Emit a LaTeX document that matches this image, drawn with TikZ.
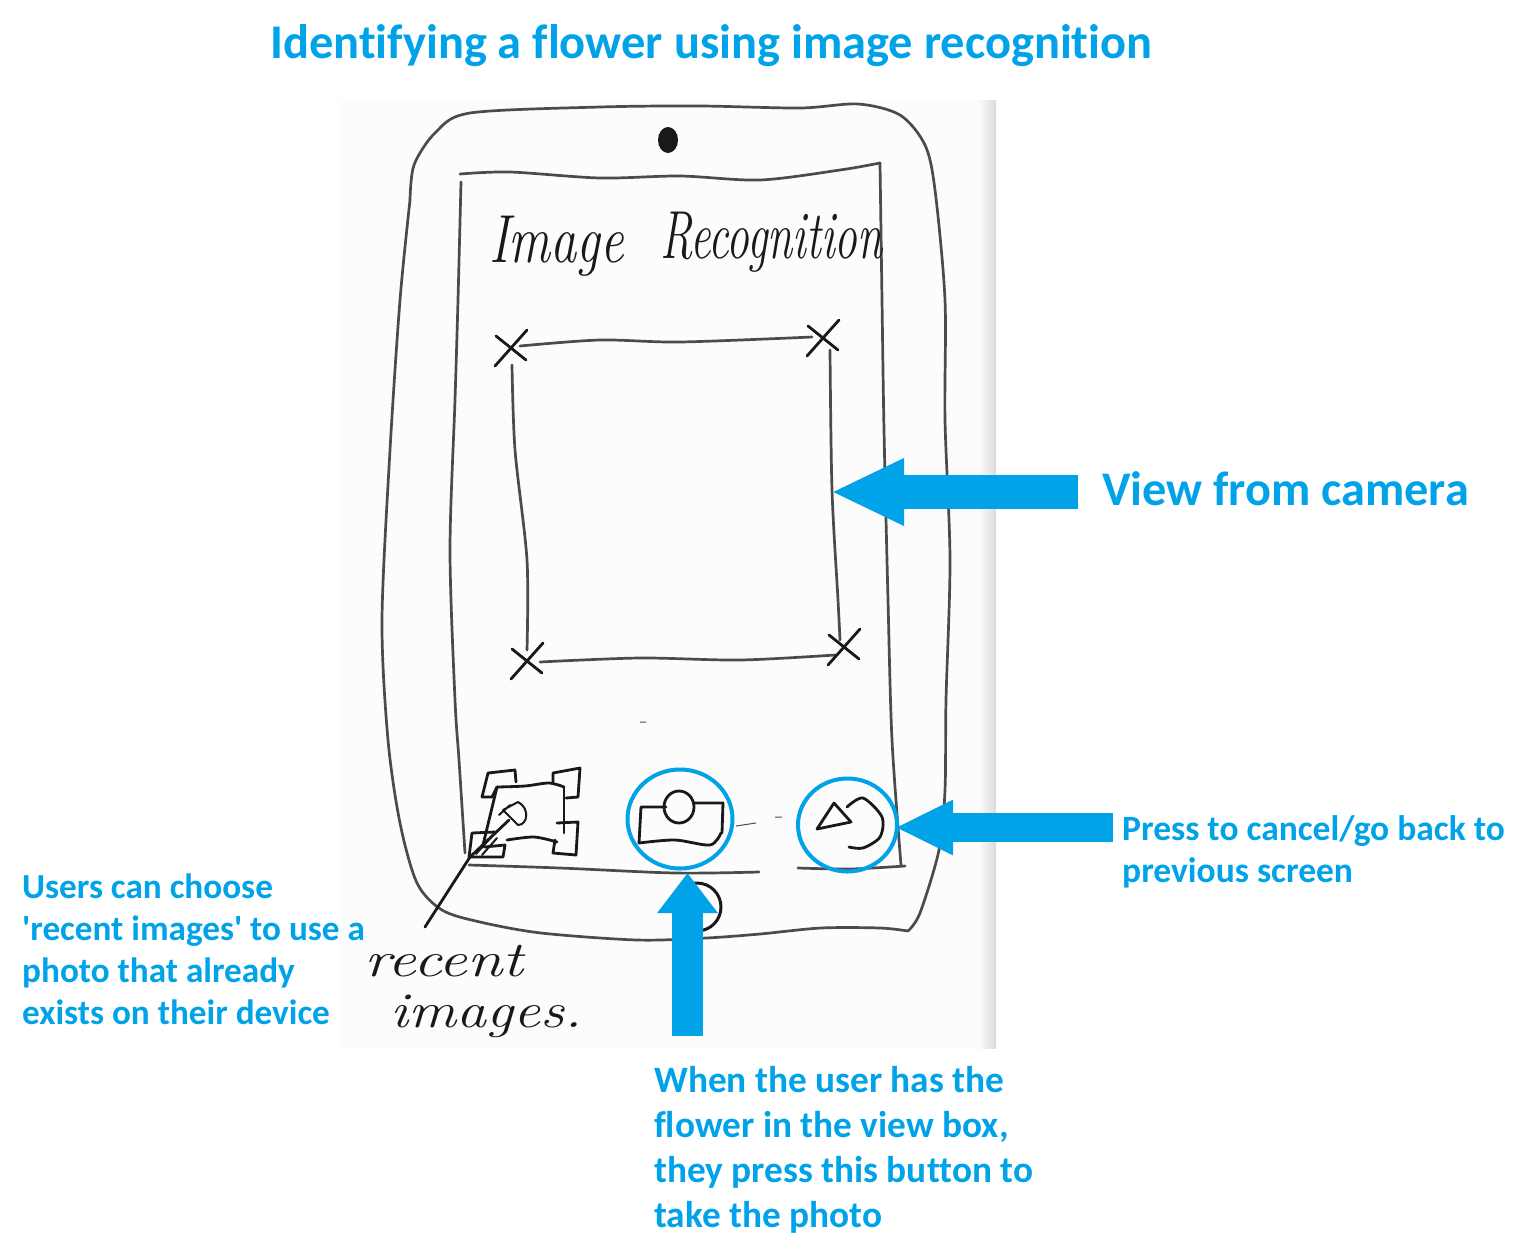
\documentclass[tikz,border=0pt]{standalone}
\usepackage{fontspec}
\setsansfont{Carlito}[Ligatures={NoCommon,TeXOff}]
\usetikzlibrary{arrows.meta,shapes.geometric}
\definecolor{sky}{RGB}{0,162,232}
\definecolor{pencil}{RGB}{75,75,75}
\definecolor{ink}{RGB}{25,25,25}
\tikzset{
  x=1pt,y=-1pt,
  note/.style 2 args={text=sky,inner sep=0pt,align=left,anchor=north west,
    font=\sffamily\bfseries\fontsize{#1}{#2}\selectfont},
  callout/.style={line width=#1,draw=sky,line cap=butt},
  ring/.style={ellipse,draw=sky,line width=4pt,inner sep=0pt},
  hand/.style 2 args={text=ink,inner sep=0pt,anchor=base west,transform shape,xscale=#2,
    font=\rmfamily\itshape\fontsize{#1}{#1}\selectfont},
  pencilline/.style={draw=pencil,line width=2.7pt,line cap=round,line join=round},
  inkline/.style={draw=ink,line width=2.8pt,line cap=round,line join=round},
  % pictograms
  pics/crossmark/.style={code={
    \draw[inkline] (-16,18) -- (16,-18) (-15,-12) -- (15,12);
  }},
}
\begin{document}
\begin{tikzpicture}
  \useasboundingbox (0,0) rectangle (1516,1254);
  % paper
  \fill[black!1] (340,100) rectangle (978,1048);
  \shade[left color=black!1,right color=black!14] (978,100) rectangle (996,1048);
  % phone
  \draw[pencilline] plot[smooth] coordinates {(410,200) (414,165) (435,133) (470,113) (600,107) (700,106) (800,108) (858,104) (900,115) (925,145) (935,190) (945,300) (945,420) (950,560) (946,700) (945,790) (939,850) (920,913) (908,931)};
  \draw[pencilline] plot[smooth] coordinates {(908,931) (880,928) (821,928) (760,934) (706,938) (637,940) (541,933) (480,922) (442,910) (417,883) (400,823) (388,740) (382,620) (390,450) (400,300) (410,200)};
  \fill[ink] (668,140) ellipse (10 and 13);
  \draw[pencilline] plot[smooth] coordinates {(460,174) (510,172) (600,178) (680,176) (760,180) (840,170) (880,163)};
  \draw[pencilline] plot[smooth] coordinates {(461,182) (458,300) (455,400) (450,550) (455,700) (459,760) (465,853)};
  \draw[pencilline] plot[smooth] coordinates {(880,163) (882,300) (884,430) (888,600) (892,740) (901,865)};
  \draw[pencilline] plot[smooth] coordinates {(469,865) (560,868) (675,873) (759,872)};
  \draw[pencilline] plot[smooth] coordinates {(798,868) (850,869) (905,866)};
  \draw[draw=pencil,line width=1pt] (736,826) -- (756,823) (775,817) -- (782,817) (640,722) -- (646,722);
  % view box
  \draw[pencilline] plot[smooth] coordinates {(520,346) (600,340) (680,342) (812,337)};
  \draw[pencilline] plot[smooth] coordinates {(512,365) (515,450) (527,560) (527,650)};
  \draw[pencilline] plot[smooth] coordinates {(830,350) (832,490) (838,600) (840,640)};
  \draw[pencilline] plot[smooth] coordinates {(540,662) (640,658) (740,660) (835,655)};
  \pic at (511,348) {crossmark};
  \pic at (823,338) {crossmark};
  \pic at (527,661) {crossmark};
  \pic at (844,647) {crossmark};
  % recent images icon
  \draw[inkline] (482,797) -- (488,773) -- (515,770) -- (516,782) (482,797) -- (492,797) -- (497,787);
  \draw[inkline] (553,783) -- (553,773) -- (580,768) -- (578,797) -- (566,798);
  \draw[inkline] (557,823) -- (578,822) -- (576,855) -- (553,853) -- (555,840);
  \draw[inkline] (484,847) -- (505,845) -- (503,857) -- (469,857) -- (472,833) -- (495,832);
  \draw[inkline] plot[smooth] coordinates {(497,787) (525,786) (549,783) (564,787)};
  \draw[inkline] (564,787) -- (564,833);
  \draw[inkline] plot[smooth] coordinates {(507,840) (534,837) (557,842)};
  \draw[inkline] (497,787) -- (483,845);
  \draw[inkline,line width=2pt] (503,810) -- (518,802) .. controls (530,808) and (528,825) .. (518,825) -- (503,810) (499,815) -- (510,805);
  \draw[inkline] (509,820) -- (470,857) -- (425,927);
  \draw[inkline,line width=2pt] (476,854) -- (494,834) (482,855) -- (497,838);
  % camera icon
  \draw[inkline] (679,807) ellipse (15 and 16);
  \draw[inkline] (666,807) -- (641,807) -- (639,843);
  \draw[inkline] plot[smooth] coordinates {(639,843) (675,840) (710,845) (721,833)};
  \draw[inkline] (694,803) -- (723,803) -- (722,833);
  % back icon
  \draw[inkline] (834,803) -- (817,829) -- (851,822) -- cycle;
  \draw[inkline] plot[smooth] coordinates {(847,807) (863,798) (882,817) (880,837) (863,848) (849,847)};
  % home button
  \draw[inkline,line width=3pt] (697,907) circle (24);
  % handwriting
  \node[hand={68}{0.77}] (imageword) at (489,262) {Image};
  \node[hand={68}{0.67}] (recognitionword) at (660,258) {Recognition};
  \node[hand={50}{1.28}] (recentword) at (364,976) {recent};
  \node[hand={50}{1.2}] (imagesword) at (390,1027) {images.};
  % rings and arrows
  \node[ring,minimum width=105pt,minimum height=99pt] (camerabutton) at (680,819) {};
  \node[ring,minimum width=99pt,minimum height=93pt] (backbutton) at (847.5,825) {};
  \coordinate (viewtail) at (1078,492);
  \coordinate (viewtip) at (831,492);
  \coordinate (backtail) at (1113,827.5);
  \coordinate (backtip) at (895,827.5);
  \coordinate (cameratail) at (687.5,1036);
  \coordinate (cameratip) at (687.5,873);
  \draw[callout=34pt,-{Triangle[length=73pt,width=62pt]}] (viewtail) -- (viewtip);
  \draw[callout=29pt,-{Triangle[length=58pt,width=51pt]}] (backtail) -- (backtip);
  \draw[callout=31pt,-{Triangle[length=40pt,width=58pt]}] (cameratail) -- (cameratip);
  % labels
  \node[note={48.4}{58}] (title) at (270,24) {Identifying a flower using image recognition};
  \node[note={48.3}{58}] (viewlabel) at (1102,471.5) {View from camera};
  \node[note={35.5}{42}] (backlabel) at (1122,815) {Press to cancel/go back to\\previous screen};
  \node[note={35.2}{42}] (recentlabel) at (22,873.5) {Users can choose\\'recent images' to use a\\photo that already\\exists on their device};
  \node[note={37.3}{45}] (shutterlabel) at (654,1066) {When the user has the\\flower in the view box,\\they press this button to\\take the photo};
\end{tikzpicture}
\end{document}
